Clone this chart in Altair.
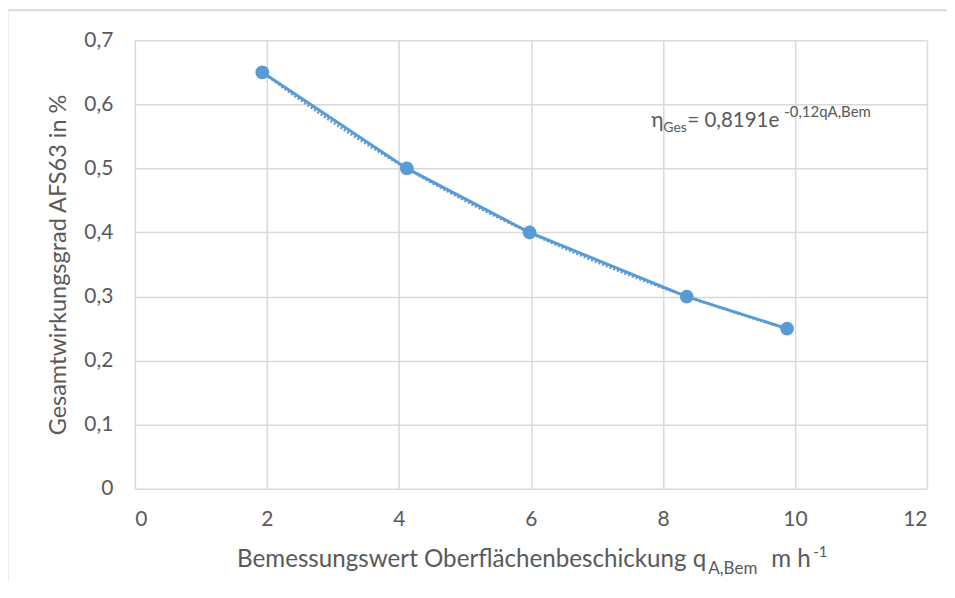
import altair as alt
import pandas as pd

# data
q_values = [1.93, 4.12, 5.98, 8.36, 9.88]
eta_values = [0.65, 0.50, 0.40, 0.30, 0.25]
x_ticks = [0, 2, 4, 6, 8, 10, 12]
y_ticks = [0, 0.1, 0.2, 0.3, 0.4, 0.5, 0.6, 0.7]

df = pd.DataFrame({"q": q_values, "eta": eta_values})

W, H = 793, 449
BLUE = "#5b9bd5"
GREY_TXT = "#595959"
GRID = "#d9d9d9"
FONT = "Lato"

x_enc = alt.X("q:Q", scale=alt.Scale(domain=[0, 12], nice=False),
              axis=alt.Axis(values=x_ticks, title=None, labelExpr="replace(datum.label, '.', ',')"))
y_enc = alt.Y("eta:Q", scale=alt.Scale(domain=[0, 0.7], nice=False),
              axis=alt.Axis(values=y_ticks, format=".1f", title="Gesamtwirkungsgrad AFS63 in %",
                            labelExpr="datum.value == 0 ? '0' : replace(datum.label, '.', ',')"))

base = alt.Chart(df)

trend = base.transform_regression("q", "eta", method="exp").mark_line(
    color=BLUE, strokeWidth=2.5, strokeDash=[2, 2]
).encode(x=x_enc, y=y_enc)

line = base.mark_line(color=BLUE, strokeWidth=3).encode(x=x_enc, y=y_enc)
pts = base.mark_circle(color=BLUE, size=190, opacity=1).encode(x=x_enc, y=y_enc)

def txt(s, x, y, size, align="left"):
    return alt.Chart(pd.DataFrame({"t": [s]})).mark_text(
        align=align, baseline="alphabetic", fontSize=size, font=FONT, color=GREY_TXT
    ).encode(text="t:N", x=alt.value(x), y=alt.value(y))

# x-axis title with sub/superscript (page x minus 135, page y minus 40)
xt = [
    txt("Bemessungswert Oberflächenbeschickung q", 572, 527, 24.2, "right"),
    txt("A,Bem", 574, 534, 17),
    txt("m h", 637, 527, 24.2),
    txt("-1", 679, 517, 15),
]
# equation annotation
eq = [
    txt("η", 517, 87, 21),
    txt("Ges", 529, 92, 14),
    txt("= 0,8191e", 553, 87, 20.5),
    txt("-0,12qA,Bem", 650, 77, 15),
]

frame_top = alt.Chart(pd.DataFrame({"a": [0]})).mark_rule(color=GRID, strokeWidth=2).encode(
    x=alt.value(-128), x2=alt.value(W + 30), y=alt.value(-30))
frame_left = alt.Chart(pd.DataFrame({"a": [0]})).mark_rule(color=GRID, strokeWidth=2).encode(
    x=alt.value(-127.5), y=alt.value(-30), y2=alt.value(H + 110))

chart = alt.layer(trend, line, pts, *xt, *eq, frame_top, frame_left).properties(
    width=W, height=H,
    autosize=alt.AutoSizeParams(type="none"),
    padding={"left": 127, "top": 32, "right": 20, "bottom": 92},
).configure_view(stroke=None).configure_axis(
    grid=True, gridColor=GRID, gridWidth=1.5, domain=False, ticks=False,
    labelFont=FONT, labelFontSize=21, labelColor=GREY_TXT,
    titleFont=FONT, titleFontSize=23.5, titleColor=GREY_TXT, titleFontWeight="normal",
).configure_axisX(labelPadding=20).configure_axisY(labelPadding=22, titlePadding=13)

chart.save("out.html", embed_options={"renderer": "svg", "actions": False})
